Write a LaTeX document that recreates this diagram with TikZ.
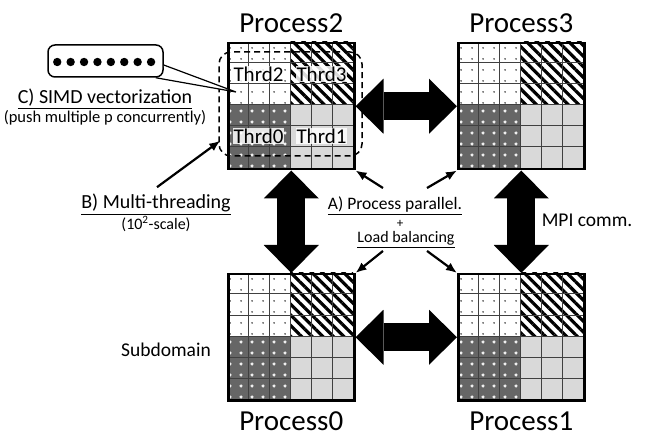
\documentclass[tikz,border=0pt]{standalone}
\usepackage{fontspec}
\setmainfont{Carlito}
\usetikzlibrary{arrows.meta,positioning,calc,patterns.meta}
\tikzset{
  subdom/.style={draw,line width=2.5pt,minimum size=126pt,inner sep=0pt,anchor=north west},
  cellline/.style={draw=black!75,line width=1pt},
  quaddots/.style={fill=white,postaction={pattern={Dots[distance=10.5pt,radius=0.8pt]},pattern color=black}},
  quadstripe/.style={fill=white,postaction={pattern={Lines[angle=-45,distance=7.5pt,line width=3.2pt]},pattern color=black}},
  quaddark/.style={fill=black!60,postaction={pattern={Stars[distance=10.5pt,radius=2pt,points=4]},pattern color=white}},
  quadgray/.style={fill=black!15},
  proclab/.style={font=\fontsize{29}{30}\selectfont,inner sep=0pt},
  thrd/.style={font=\fontsize{21}{22}\selectfont,fill=white,fill opacity=0.85,text opacity=1,inner sep=1pt},
  thrbox/.style={draw,dash pattern=on 6pt off 4pt,line width=1.5pt,rounded corners=12pt,minimum width=143pt,minimum height=104pt,inner sep=0pt},
  bubble/.style={draw,line width=1.5pt,rounded corners=7pt,minimum width=115pt,minimum height=32pt,fill=white},
  lab/.style={inner sep=1pt,anchor=base},
  bigarrow/.style={line width=28pt,{Triangle[length=28pt,width=55pt,line width=0pt]}-{Triangle[length=28pt,width=55pt,line width=0pt]}},
  thinarrow/.style={line width=2.2pt,-{Latex[length=11pt,width=9pt]}}
}
\begin{document}
\begin{tikzpicture}[x=1pt,y=-1pt]
\useasboundingbox (0,0) rectangle (645,438);
% four subdomains, 6x6 cells each
\foreach \nm/\px/\py in {p2/227/42,p3/457/42,p0/227/273,p1/457/273}{
  \begin{scope}[shift={(\px,\py)}]
    \path[quaddots] (0,0) rectangle (63,63);
    \path[quadstripe] (63,0) rectangle (126,63);
    \path[quaddark] (0,63) rectangle (63,126);
    \path[quadgray] (63,63) rectangle (126,126);
    \foreach \k in {21,42,...,105}{
      \draw[cellline] (\k,0) -- (\k,126);
      \draw[cellline] (0,\k) -- (126,\k);
    }
    \node[subdom] (\nm) at (0,0) {};
  \end{scope}
}
\node[proclab,above=9pt of p2] (l2) {Process2};
\node[proclab,above=9pt of p3] (l3) {Process3};
\node[proclab,below=10pt of p0] (l0) {Process0};
\node[proclab,below=10pt of p1] (l1) {Process1};

% threads inside Process2
\node[thrd] (t2) at ($(p2.north west)+(31.5,32)$) {Thrd2};
\node[thrd] (t3) at ($(p2.north west)+(94.5,32)$) {Thrd3};
\node[thrd] (t0) at ($(p2.north west)+(31.5,94)$) {Thrd0};
\node[thrd] (t1) at ($(p2.north west)+(94.5,94)$) {Thrd1};
\node[thrbox] (thr) at (290.5,104) {};

% MPI communication
\draw[bigarrow] (p2.east) -- (p3.west);
\draw[bigarrow] (p0.east) -- (p1.west);
\draw[bigarrow] (p2.south) -- (p0.north);
\draw[bigarrow] (p3.south) -- (p1.north);

% SIMD callout
\node[bubble] (dots) at (105.5,61) {};
\foreach \i in {0,...,7}
  \fill ($(dots.west)+(10+\i*13.4,1)$) circle (4.2);
\coordinate (tip) at (236,92);
\fill[white] ($(dots.east)+(0,4)$) -- (tip) -- ($(dots.south east)+(-8,0)$) -- ($(dots.south east)+(1.5,1.5)$) -- cycle;
\draw[line width=1.2pt] ($(dots.east)+(0,4)$) -- (tip) -- ($(dots.south east)+(-8,0)$);

% labels
\node[lab,font=\fontsize{20}{22}\selectfont] (csimd) at (105,104) {\underline{C) SIMD vectorization}};
\node[lab,font=\fontsize{16.5}{18}\selectfont] (csub) at (105,123) {(push multiple p concurrently)};
\node[lab,font=\fontsize{20}{22}\selectfont] (bmt) at (156,209) {\underline{B) Multi-threading}};
\node[lab,font=\fontsize{16}{18}\selectfont] (bsc) at (156,230) {(10\textsuperscript{2}-scale)};
\node[lab,font=\fontsize{17.5}{19}\selectfont] (apar) at (395,210) {\underline{A) Process parallel.}};
\node[lab,font=\fontsize{13}{14}\selectfont] (plus) at (400,228) {+};
\node[lab,font=\fontsize{16}{18}\selectfont] (lb) at (406,243) {\underline{Load balancing}};
\node[lab,font=\fontsize{19.5}{21}\selectfont] (mpi) at (587,227) {MPI comm.};
\node[lab,font=\fontsize{19.5}{21}\selectfont] (sub) at (166,356) {Subdomain};

% pointers
\draw[thinarrow] ($(bmt.north)+(1,-6)$) -- ($(thr.south west)+(2,-16)$);
\draw[thinarrow] ($(apar.north)+(-12,-8)$) -- (p2.south east);
\draw[thinarrow] ($(apar.north)+(32,-8)$) -- (p3.south west);
\draw[thinarrow] ($(lb.south)+(-23,2)$) -- (p0.north east);
\draw[thinarrow] ($(lb.south)+(21,2)$) -- (p1.north west);
\end{tikzpicture}
\end{document}
